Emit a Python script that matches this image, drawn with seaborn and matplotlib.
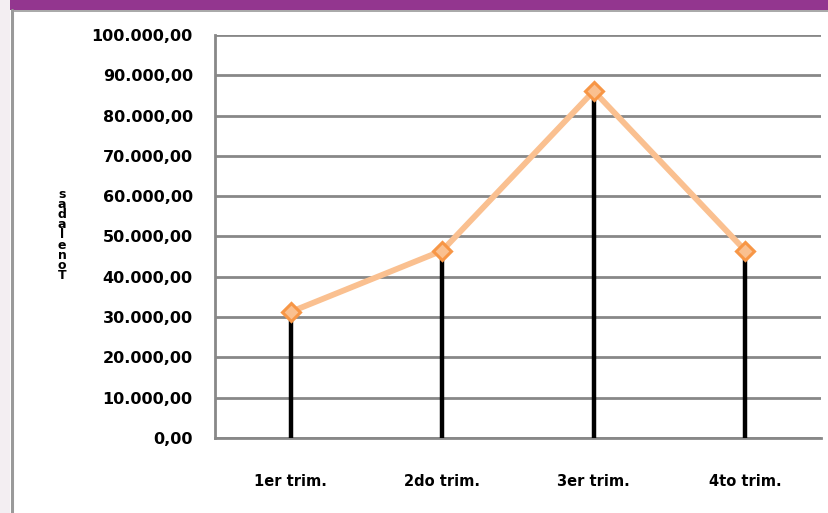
import matplotlib
matplotlib.use("Agg")
import matplotlib.pyplot as plt
import seaborn as sns
import pandas as pd
from matplotlib.patches import Rectangle

categories = ["1er trim.", "2do trim.", "3er trim.", "4to trim."]
values = [31300, 46500, 86100, 46500]
yticks = [0, 10000, 20000, 30000, 40000, 50000, 60000, 70000, 80000, 90000, 100000]
ytick_labels = ["0,00", "10.000,00", "20.000,00", "30.000,00", "40.000,00", "50.000,00",
                "60.000,00", "70.000,00", "80.000,00", "90.000,00", "100.000,00"]
ylabel = "Toneladas"

sns.set_style("white")
plt.rcParams['font.family'] = ['DejaVu Sans']
plt.rcParams['text.color'] = 'black'
plt.rcParams['xtick.color'] = 'black'
plt.rcParams['ytick.color'] = 'black'

W, H = 829, 513
fig = plt.figure(figsize=(W / 100, H / 100), dpi=100)
fig.patch.set_facecolor("white")

# slide background strip on left and purple band on top
fig.patches.append(Rectangle((0, 0), 10 / W, 1, transform=fig.transFigure,
                             facecolor="#f3eef2", edgecolor="none", zorder=0))
fig.patches.append(Rectangle((10 / W, (H - 10) / H), 1, 10 / H, transform=fig.transFigure,
                             facecolor="#93368f", edgecolor="none", zorder=1))
# frame border
fig.add_artist(plt.Line2D([12 / W, 12 / W], [0, (H - 10) / H], transform=fig.transFigure,
                          color="#9a9a9a", lw=2.2, zorder=2))
fig.add_artist(plt.Line2D([12 / W, 1], [(H - 11) / H, (H - 11) / H], transform=fig.transFigure,
                          color="#9a9a9a", lw=1.2, zorder=2))

left, right, top, bottom = 215, 821, 35, 438
ax = fig.add_axes([left / W, (H - bottom) / H, (right - left) / W, (bottom - top) / H])

df = pd.DataFrame({"cat": categories, "val": values})

# drop lines
ax.vlines(range(len(categories)), 0, values, color="black", lw=3.2, zorder=3)

sns.lineplot(data=df, x="cat", y="val", sort=False, ax=ax, color="#fac090", lw=4.2,
             marker="D", markersize=9.5, markeredgecolor="#f79646", markerfacecolor="#fac090",
             markeredgewidth=2.2, zorder=4)

ax.set_xlim(-0.5, len(categories) - 0.5)
ax.set_ylim(0, 100000)
ax.set_yticks(yticks)
ax.set_yticklabels(ytick_labels, fontsize=11.5, fontweight="bold")
ax.set_xticks(range(len(categories)))
ax.set_xticklabels(categories, fontsize=10.5, fontweight="bold")
ax.tick_params(axis="y", length=0, pad=16)
ax.tick_params(axis="x", length=0, pad=26)
ax.set_xlabel("")
ax.set_ylabel("")

for yv in yticks:
    ax.axhline(yv, color="#888888", lw=2.0, zorder=1)

for s in ["top", "right"]:
    ax.spines[s].set_visible(False)
ax.spines["left"].set_color("#888888")
ax.spines["left"].set_linewidth(2.0)
ax.spines["bottom"].set_color("#888888")
ax.spines["bottom"].set_linewidth(2.0)

# stacked y-axis label
fig.text(62 / W, (H - 235) / H, "\n".join(reversed(ylabel)), fontsize=9, fontweight="bold",
         ha="center", va="center", linespacing=0.72)

fig.savefig("out.png", dpi=100)
